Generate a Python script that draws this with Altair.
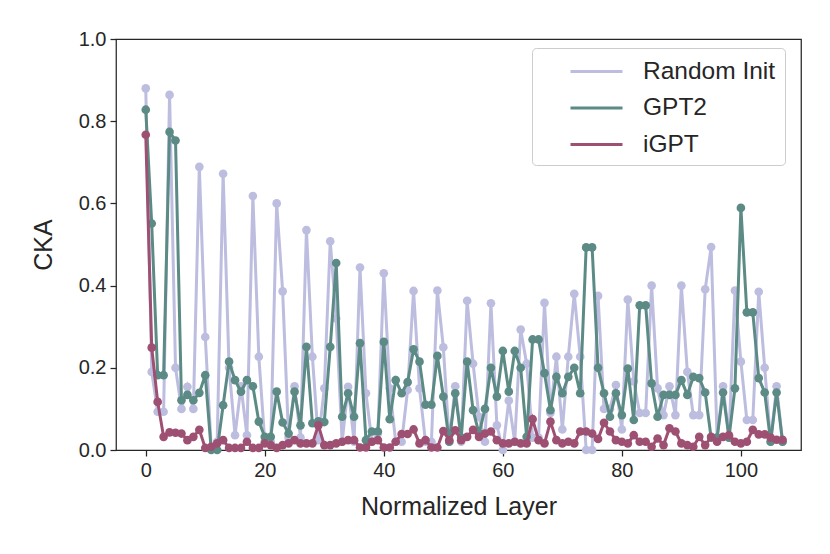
import altair as alt
import pandas as pd

series_names = ["Random Init", "GPT2", "iGPT"]
series_colors = ["#bdbde0", "#5c8b86", "#9e5072"]

random_init = [
    0.88, 0.19, 0.093, 0.093, 0.864, 0.2, 0.10, 0.154, 0.10, 0.689,
    0.275, 0.005, 0.02, 0.672, 0.2, 0.036, 0.155, 0.036, 0.618, 0.227,
    0.02, 0.02, 0.6, 0.386, 0.03, 0.155, 0.03, 0.535, 0.227, 0.024,
    0.15, 0.508, 0.32, 0.02, 0.154, 0.02, 0.444, 0.138, 0.02, 0.04,
    0.43, 0.15, 0.02, 0.02, 0.146, 0.387, 0.15, 0.02, 0.02, 0.388,
    0.25, 0.02, 0.155, 0.02, 0.363, 0.21, 0.081, 0.02, 0.357, 0.06,
    0.0, 0.12, 0.02, 0.293, 0.21, 0.03, 0.03, 0.358, 0.09, 0.227,
    0.05, 0.227, 0.38, 0.227, 0.0, 0.0, 0.375, 0.1, 0.1, 0.158,
    0.05, 0.366, 0.167, 0.09, 0.09, 0.4, 0.15, 0.085, 0.155, 0.085,
    0.4, 0.19, 0.085, 0.085, 0.391, 0.494, 0.03, 0.155, 0.03, 0.388,
    0.215, 0.073, 0.073, 0.385, 0.2, 0.02, 0.155, 0.02,
]

gpt2 = [
    0.828, 0.551, 0.182, 0.182, 0.774, 0.753, 0.121, 0.134, 0.121, 0.139,
    0.182, 0.0, 0.0, 0.109, 0.215, 0.17, 0.142, 0.17, 0.155, 0.069,
    0.032, 0.032, 0.142, 0.067, 0.04, 0.142, 0.06, 0.251, 0.065, 0.07,
    0.068, 0.251, 0.455, 0.081, 0.138, 0.081, 0.26, 0.024, 0.045, 0.045,
    0.263, 0.075, 0.17, 0.138, 0.165, 0.245, 0.215, 0.11, 0.11, 0.229,
    0.13, 0.02, 0.138, 0.03, 0.215, 0.097, 0.04, 0.1, 0.2, 0.13,
    0.241, 0.142, 0.241, 0.2, 0.032, 0.269, 0.269, 0.187, 0.097, 0.178,
    0.138, 0.178, 0.2, 0.138, 0.493, 0.493, 0.2, 0.138, 0.081, 0.138,
    0.085, 0.198, 0.073, 0.352, 0.352, 0.162, 0.081, 0.134, 0.134, 0.134,
    0.17, 0.134, 0.178, 0.175, 0.14, 0.03, 0.03, 0.14, 0.03, 0.15,
    0.589, 0.335, 0.335, 0.175, 0.14, 0.02, 0.14, 0.02,
]

igpt = [
    0.767, 0.249, 0.117, 0.032, 0.043, 0.042, 0.04, 0.024, 0.032, 0.049,
    0.005, 0.008, 0.016, 0.024, 0.005, 0.005, 0.005, 0.02, 0.005, 0.005,
    0.016, 0.012, 0.005, 0.012, 0.016, 0.024, 0.016, 0.016, 0.016, 0.06,
    0.012, 0.012, 0.016, 0.02, 0.024, 0.024, 0.006, 0.006, 0.02, 0.024,
    0.006, 0.006, 0.02, 0.039, 0.039, 0.05, 0.016, 0.024, 0.006, 0.006,
    0.046, 0.024, 0.048, 0.024, 0.032, 0.049, 0.032, 0.04, 0.045, 0.024,
    0.016, 0.016, 0.02, 0.016, 0.016, 0.075, 0.024, 0.016, 0.069, 0.024,
    0.016, 0.02, 0.016, 0.045, 0.045, 0.04, 0.027, 0.066, 0.045, 0.024,
    0.02, 0.016, 0.036, 0.02, 0.02, 0.008, 0.028, 0.012, 0.053, 0.045,
    0.016, 0.012, 0.008, 0.032, 0.012, 0.032, 0.02, 0.032, 0.036, 0.02,
    0.016, 0.02, 0.049, 0.038, 0.038, 0.03, 0.025, 0.025,
]

rows = []
for name, vals in zip(series_names, [random_init, gpt2, igpt]):
    for i, v in enumerate(vals):
        rows.append({"layer": i, "cka": v, "series": name})
df = pd.DataFrame(rows)

FONT = "Liberation Sans"
DARK = "#262626"

base = alt.Chart(df).encode(
    x=alt.X("layer:Q", title="Normalized Layer",
            scale=alt.Scale(domain=[-5, 110.1], nice=False, zero=False),
            axis=alt.Axis(values=[0, 20, 40, 60, 80, 100], format="d")),
    y=alt.Y("cka:Q", title="CKA",
            scale=alt.Scale(domain=[0, 1], nice=False),
            axis=alt.Axis(values=[0, 0.2, 0.4, 0.6, 0.8, 1.0], format=".1f")),
    color=alt.Color("series:N", title=None,
                    scale=alt.Scale(domain=series_names, range=series_colors),
                    legend=alt.Legend(orient="none", legendX=416, legendY=9,
                                      symbolType="M-2,0H2", symbolStrokeWidth=3,
                                      symbolSize=676, symbolOffset=41,
                                      labelFontSize=24.5,
                                      labelFont=FONT, labelColor=DARK,
                                      rowPadding=10.5, padding=9,
                                      strokeColor="#cccccc", cornerRadius=4,
                                      fillColor="white", labelOffset=32,
                                      labelLimit=300)),
)

layers = []
for name in series_names:
    sub = base.transform_filter(alt.datum.series == name)
    layers.append(sub.mark_line(strokeWidth=3))
    layers.append(sub.mark_circle(size=75, opacity=1))

chart = alt.layer(*layers).properties(
    width=685, height=411,
    autosize=alt.AutoSizeParams(type="none"),
    padding={"left": 108, "top": 31, "right": 21, "bottom": 96},
).configure_view(
    stroke=DARK, strokeWidth=1.25
).configure_axis(
    grid=False, domain=False, ticks=True, tickColor=DARK, tickWidth=1.25,
    tickSize=6, labelFont=FONT, labelFontSize=20, labelColor=DARK,
    titleFont=FONT, titleFontSize=25, titleColor=DARK, titleFontWeight="normal",
    labelPadding=4,
).configure_axisX(titlePadding=14).configure_axisY(titlePadding=22)

chart.save("out.html", embed_options={"renderer": "svg", "actions": False})
